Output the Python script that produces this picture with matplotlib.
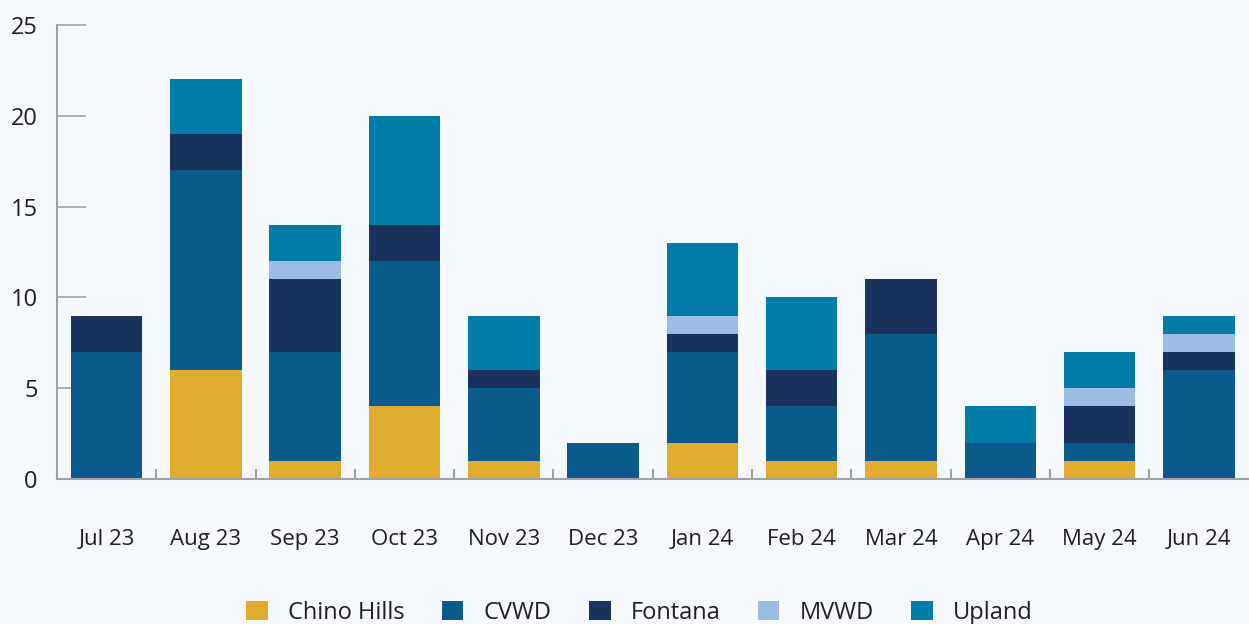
import numpy as np
import matplotlib
matplotlib.use('Agg')
import matplotlib.pyplot as plt

# 데이터
months = ['Jul 23', 'Aug 23', 'Sep 23', 'Oct 23', 'Nov 23', 'Dec 23',
          'Jan 24', 'Feb 24', 'Mar 24', 'Apr 24', 'May 24', 'Jun 24']
chino_hills = [0, 6, 1, 4, 1, 0, 2, 1, 1, 0, 1, 0]
cvwd = [7, 11, 6, 8, 4, 2, 5, 3, 7, 2, 1, 6]
fontana = [2, 2, 4, 2, 1, 0, 1, 2, 3, 0, 2, 1]
mvwd = [0, 0, 1, 0, 0, 0, 1, 0, 0, 0, 1, 1]
upland = [0, 3, 2, 6, 3, 0, 4, 4, 0, 2, 2, 1]

series = [('Chino Hills', chino_hills, '#e0ac2e'),
          ('CVWD', cvwd, '#0b5a8c'),
          ('Fontana', fontana, '#1a335e'),
          ('MVWD', mvwd, '#9dbce3'),
          ('Upland', upland, '#007ca6')]

bg = '#f5f8fc'
plt.rcParams['font.family'] = ['Open Sans', 'DejaVu Sans']

fig = plt.figure(figsize=(12.49, 6.24), dpi=100, facecolor=bg)
ax = fig.add_axes([0.0456, 0.2324, 0.954, 0.7276], facecolor=bg)

x = np.arange(len(months))
bottom = np.zeros(len(months))
for name, vals, col in series:
    vals = np.array(vals, dtype=float)
    ax.bar(x, vals, 0.72, bottom=bottom, color=col, label=name, zorder=2)
    bottom += vals

ax.set_xlim(-0.5, 11.5)
ax.set_ylim(0, 25)

for s in ['top', 'right']:
    ax.spines[s].set_visible(False)
for s in ['left', 'bottom']:
    ax.spines[s].set_color('#a0a3a6')
    ax.spines[s].set_linewidth(1.5)

# y축 눈금 (안쪽)
ax.set_yticks([0, 5, 10, 15, 20, 25])
ax.tick_params(axis='y', direction='in', length=21, width=1.2, color='#a0a3a6',
               labelsize=17, labelcolor='#231f20', pad=14)

# x축: 라벨은 막대 중앙, 눈금은 막대 사이
ax.set_xticks(x)
ax.set_xticklabels(months)
ax.tick_params(axis='x', length=0, labelsize=16, labelcolor='#231f20', pad=36)
ax.set_xticks(np.arange(0.5, 11.5, 1), minor=True)
ax.tick_params(axis='x', which='minor', direction='in', length=7, width=1.5, color='#a0a3a6')

fig.legend(*ax.get_legend_handles_labels(), loc='center', bbox_to_anchor=(0.512, 0.018),
           ncol=5, frameon=False, fontsize=17, handlelength=0.9, handleheight=0.9,
           handletextpad=0.85, columnspacing=1.6, labelcolor='#231f20', borderpad=0)

fig.savefig('out.png', dpi=100, facecolor=bg)
